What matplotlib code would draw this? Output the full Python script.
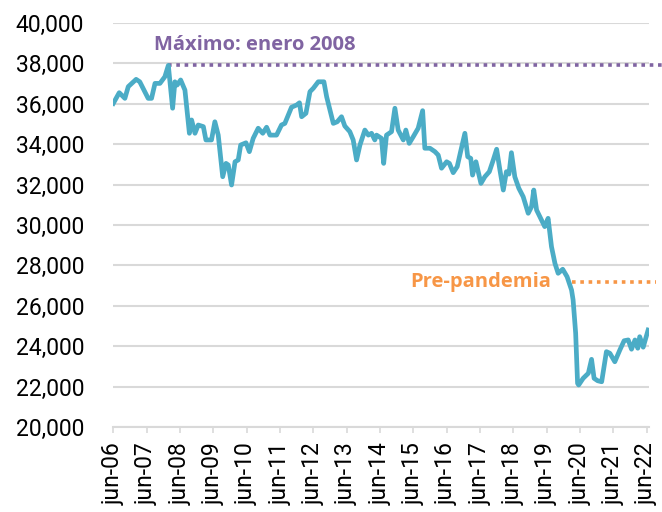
import matplotlib
matplotlib.use("Agg")
import matplotlib.pyplot as plt
import pandas as pd

# serie (fecha, valor)
fechas = [
    "2006-06-01", "2006-08-05", "2006-10-06", "2006-11-12", "2007-02-06", "2007-03-18",
    "2007-06-18", "2007-07-25", "2007-09-01", "2007-10-25", "2007-12-18", "2008-01-25",
    "2008-03-12", "2008-04-06", "2008-05-01", "2008-06-08", "2008-07-25", "2008-09-12",
    "2008-10-06", "2008-11-12", "2008-12-18", "2009-02-12", "2009-03-12", "2009-05-12",
    "2009-06-18", "2009-07-25", "2009-09-12", "2009-10-18", "2009-11-12", "2009-12-18",
    "2010-01-25", "2010-03-01", "2010-03-28", "2010-05-25", "2010-07-01", "2010-08-12",
    "2010-10-06", "2010-11-25", "2011-01-06", "2011-02-12", "2011-04-25", "2011-06-18",
    "2011-07-25", "2011-10-06", "2011-12-01", "2012-01-01", "2012-01-25", "2012-03-12",
    "2012-04-25", "2012-06-01", "2012-07-25", "2012-09-25", "2012-10-25", "2013-01-06",
    "2013-02-18", "2013-04-06", "2013-05-12", "2013-07-06", "2013-08-12", "2013-09-18",
    "2013-10-25", "2013-12-18", "2014-01-25", "2014-03-01", "2014-04-06", "2014-04-25",
    "2014-06-18", "2014-07-12", "2014-08-12", "2014-10-06", "2014-11-12", "2014-12-18",
    "2015-02-12", "2015-03-12", "2015-04-18", "2015-06-01", "2015-07-25", "2015-09-12",
    "2015-10-06", "2015-12-01", "2016-01-25", "2016-03-01", "2016-04-06", "2016-06-01",
    "2016-07-01", "2016-08-12", "2016-09-25", "2016-11-01", "2016-12-18", "2017-01-18",
    "2017-02-20", "2017-03-12", "2017-04-18", "2017-06-12", "2017-07-25", "2017-09-12",
    "2017-10-25", "2017-12-01", "2018-01-06", "2018-02-12", "2018-03-18", "2018-04-15",
    "2018-05-12", "2018-06-18", "2018-08-01", "2018-09-18", "2018-11-12", "2018-12-18",
    "2019-01-12", "2019-02-12", "2019-04-06", "2019-05-12", "2019-06-18", "2019-07-25",
    "2019-09-01", "2019-10-06", "2019-11-25", "2020-01-12", "2020-03-01", "2020-03-18",
    "2020-04-15", "2020-05-06", "2020-05-18", "2020-07-06", "2020-09-01", "2020-10-06",
    "2020-11-03", "2020-12-12", "2021-01-25", "2021-03-18", "2021-04-25", "2021-06-18",
    "2021-08-12", "2021-09-28", "2021-11-12", "2021-12-18", "2022-01-25", "2022-02-25",
    "2022-03-18", "2022-04-25", "2022-06-18",
]
valores = [
    36020, 36550, 36270, 36850, 37210, 37090,
    36270, 36270, 37010, 37010, 37340, 37900,
    35780, 37090, 36930, 37180, 36680, 34540,
    35200, 34540, 34950, 34870, 34210, 34210,
    35110, 34450, 32390, 33050, 32970, 31980,
    33130, 33220, 33960, 34070, 33630, 34290,
    34790, 34540, 34840, 34450, 34450, 34950,
    35030, 35830, 35940, 36050, 35360, 35530,
    36600, 36770, 37090, 37090, 36350, 35030,
    35110, 35360, 34900, 34620, 34210, 33220,
    33960, 34700, 34450, 34540, 34210, 34450,
    34290, 33050, 34450, 34620, 35780, 34700,
    34210, 34700, 34040, 34370, 34790, 35660,
    33800, 33800, 33630, 33460, 32810, 33130,
    33050, 32590, 32890, 33630, 34540, 33380,
    33300, 32470, 33130, 32060, 32390, 32640,
    33220, 33750, 32720, 31730, 32640, 32520,
    33580, 32390, 31820, 31400, 30580, 30900,
    31730, 30740, 30250, 29920, 30330, 28930,
    28100, 27610, 27810, 27440, 26780, 26290,
    24640, 22160, 22080, 22410, 22660, 23350,
    22410, 22290, 22240, 23730, 23650, 23230,
    23810, 24270, 24310, 23850, 24310, 23900,
    24470, 23950, 24800,
]

maximo = 37900
maximo_desde = "2008-01-25"
maximo_hasta = "2022-12-20"
prepandemia = 27160
prepandemia_desde = "2020-03-01"
prepandemia_hasta = "2022-09-15"

tick_anios = list(range(2006, 2023))
tick_labels = ["jun-%02d" % (a % 100) for a in tick_anios]
y_ticks = list(range(20000, 40001, 2000))

azul = "#4BACC6"
morado = "#8064A2"
naranja = "#F79646"
gris = "#D9D9D9"

fechas = pd.to_datetime(fechas)

fig = plt.figure(figsize=(6.62, 5.12), dpi=100)
ax = fig.add_axes([113.3 / 662, 1 - 427 / 512, (649.3 - 113.3) / 662, (427 - 23) / 512])

ax.plot(fechas, valores, color=azul, lw=3.4, solid_joinstyle="round", zorder=3)

# lineas de referencia punteadas (salen por la derecha del area)
ax.plot(pd.to_datetime([maximo_desde, maximo_hasta]), [maximo, maximo], color=morado,
        lw=2.6, linestyle=(0, (1, 1.3)), clip_on=False, zorder=2)
ax.plot(pd.to_datetime([prepandemia_desde, prepandemia_hasta]), [prepandemia, prepandemia],
        color=naranja, lw=2.6, linestyle=(0, (1, 1.3)), clip_on=False, zorder=2)

ax.text(pd.Timestamp("2010-09-01"), 38900, "Máximo: enero 2008", color=morado,
        fontsize=14.5, fontweight="bold", family="Open Sans", ha="center", va="center")
ax.text(pd.Timestamp("2019-07-20"), prepandemia, "Pre-pandemia", color=naranja,
        fontsize=14.5, fontweight="bold", family="Open Sans", ha="right", va="center")

ax.set_ylim(20000, 40000)
ax.set_xlim(pd.Timestamp("2006-06-01"), pd.Timestamp("2022-07-01"))
ax.set_yticks(y_ticks)
ax.set_yticklabels(["{:,}".format(v) for v in y_ticks])
ax.set_xticks(pd.to_datetime(["%d-06-01" % a for a in tick_anios]))
ax.set_xticklabels(tick_labels, rotation=90, va="top")

ax.grid(axis="y", color=gris, lw=1.5)
ax.set_axisbelow(True)
for s in ["left", "right", "top"]:
    ax.spines[s].set_visible(False)
ax.spines["bottom"].set_color(gris)
ax.spines["bottom"].set_linewidth(1.5)
ax.tick_params(axis="y", length=0, pad=21, labelsize=16.5)
ax.tick_params(axis="x", length=4, width=1.2, color=gris, pad=7, labelsize=16.5)
for lab in ax.get_xticklabels() + ax.get_yticklabels():
    lab.set_family("Roboto")

fig.savefig("out.png", dpi=100)
